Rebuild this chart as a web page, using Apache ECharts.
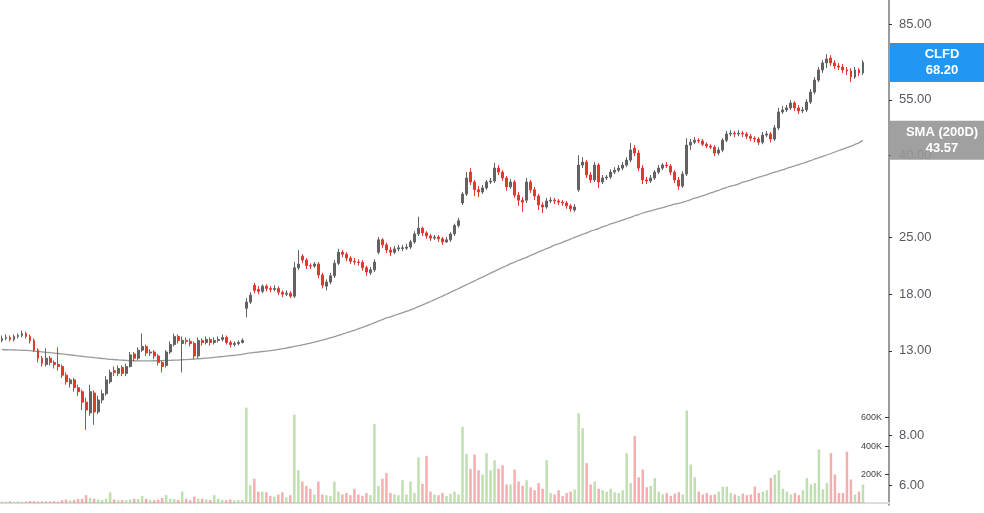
<!DOCTYPE html>
<html><head><meta charset="utf-8">
<script src="https://cdn.jsdelivr.net/npm/echarts@6/dist/echarts.min.js"></script>
<style>html,body{margin:0;padding:0;background:#fff}#c{width:984px;height:513px}</style>
</head><body><div id="c"></div>
<script>
const ticker = 'CLFD';
const smaName = 'SMA (200D)';
const lastPrice = 68.20;
const lastSma = 43.57;
const priceTicks = [6, 8, 13, 18, 25, 40, 55, 85];
const volumeTicks = [200000, 400000, 600000];
const padCount = 6;

const opens = [
13.80,13.96,14.04,13.88,14.12,14.20,14.36,14.12,13.80,13.05,
12.46,12.02,12.46,12.16,12.02,11.88,11.30,10.76,11.00,10.52,
10.28,9.68,9.10,10.20,9.15,9.80,10.16,10.88,11.60,11.42,
11.81,11.42,11.88,12.77,12.46,13.05,13.33,12.84,12.91,12.62,
12.16,11.95,12.91,13.48,14.12,13.56,13.80,13.72,13.56,12.62,
13.80,13.64,13.88,13.64,13.80,13.88,14.04,13.64,13.48,13.56,
13.64,
16.60,17.20,18.95,18.50,18.30,18.85,18.60,18.50,18.60,18.20,
18.00,18.10,17.80,20.95,22.40,21.90,21.20,21.15,21.40,20.10,
18.85,19.30,20.00,21.50,22.90,22.65,22.15,21.75,21.65,21.60,
20.95,20.35,20.70,22.90,24.60,23.90,23.20,22.90,23.35,23.40,
23.45,23.60,24.30,25.45,26.30,25.60,25.15,24.85,25.00,24.75,
24.30,24.60,25.45,26.70,
30.40,32.00,36.30,34.30,32.80,32.40,33.15,34.30,34.50,37.15,
36.30,35.10,33.35,34.30,31.80,30.90,30.90,34.30,32.80,31.65,
30.05,29.70,30.75,30.90,30.75,30.55,30.40,29.90,29.20,32.80,
37.80,38.45,35.70,34.70,37.80,34.30,35.10,35.30,36.30,36.70,
37.15,37.80,38.90,41.65,40.50,37.15,34.70,34.50,35.10,36.30,
37.15,37.80,37.60,36.30,34.70,33.50,35.90,
42.40,43.10,43.60,43.40,42.60,42.15,41.90,40.50,41.20,43.60,
45.20,45.40,45.20,45.40,45.20,44.60,44.10,43.90,43.10,44.90,
45.20,43.90,46.80,51.30,51.90,52.50,54.00,52.50,51.60,51.90,
54.30,57.50,61.60,65.30,68.00,69.90,68.00,66.80,66.40,65.30,
64.90,62.70,65.30,64.20
];
const closes = [
13.96,14.04,13.88,14.12,14.20,14.36,14.12,13.80,13.05,12.46,
12.09,12.46,12.16,12.02,11.88,11.30,10.88,11.00,10.52,10.28,
9.68,9.25,10.28,9.15,9.80,10.16,11.00,11.48,11.48,11.74,
11.42,11.88,12.70,12.46,13.05,13.33,12.84,12.91,12.62,12.16,
11.88,12.91,13.48,14.12,13.80,13.80,13.72,13.56,12.62,13.80,
13.64,13.88,13.64,13.80,13.88,14.04,13.64,13.48,13.56,13.64,
13.80,
17.20,17.90,18.40,18.30,18.85,18.60,18.50,18.60,18.20,18.00,
18.10,17.80,20.95,21.40,21.90,21.20,21.15,21.40,20.10,18.95,
19.30,20.00,21.50,22.90,22.65,22.15,21.75,21.65,21.60,20.95,
20.45,20.70,21.65,24.60,23.90,23.20,22.90,23.35,23.50,23.50,
23.60,24.30,25.45,26.30,25.60,25.15,24.85,25.00,24.75,24.30,
24.60,25.45,26.70,27.45,
32.00,35.10,34.30,32.80,32.40,33.15,34.30,34.50,37.15,36.30,
35.10,33.35,34.30,31.80,30.90,30.55,34.30,32.80,31.65,30.05,
29.70,30.75,30.90,30.75,30.55,30.40,29.90,29.40,29.70,37.80,
38.45,35.70,34.70,37.80,34.30,35.10,35.30,36.30,36.70,37.15,
37.80,38.90,41.20,40.50,37.15,34.70,34.50,35.10,36.30,37.15,
37.80,37.60,36.30,34.70,33.50,35.90,42.40,
43.10,43.60,43.40,42.60,42.15,41.90,40.50,41.20,43.60,45.20,
45.40,45.20,45.40,45.20,44.60,44.10,43.90,43.10,44.90,45.20,
43.90,46.80,51.30,51.90,52.50,54.00,52.50,51.60,51.90,54.30,
57.50,61.60,65.30,68.00,69.50,68.00,66.80,66.40,65.30,64.90,
62.70,65.30,64.20,68.20
];
const highs = [
14.20,14.28,14.20,14.28,14.36,14.60,14.52,14.28,13.96,13.19,
12.62,13.19,12.62,12.30,13.26,12.02,11.48,11.12,11.12,10.70,
10.40,9.92,10.70,10.35,10.04,10.40,11.24,11.67,11.88,11.95,
11.95,12.09,12.91,12.91,13.26,14.36,13.48,13.12,13.05,12.77,
12.30,13.05,13.72,14.36,14.28,14.12,14.04,13.96,13.72,14.04,
13.96,14.12,14.04,14.04,14.12,14.28,14.20,13.80,13.72,13.80,
13.96,
17.60,18.20,19.20,18.85,19.05,19.05,18.85,18.95,18.85,18.40,
18.40,18.30,21.65,23.20,22.65,22.15,21.50,21.65,21.65,20.35,
19.60,20.35,21.90,23.35,23.20,22.90,22.40,22.15,22.00,21.90,
21.20,21.05,22.00,25.00,24.85,24.20,23.60,23.75,23.90,23.90,
24.05,24.60,25.85,28.10,26.55,25.85,25.45,25.30,25.30,25.00,
25.00,25.70,27.00,27.90,
32.40,36.30,37.15,34.70,33.50,33.70,34.70,35.10,38.25,37.80,
36.70,35.50,34.90,34.70,32.40,31.45,35.10,34.70,33.35,32.00,
30.55,31.30,31.45,31.30,31.10,30.90,30.75,30.20,30.20,40.00,
39.55,38.90,36.30,38.45,38.25,35.70,35.70,36.90,37.35,37.80,
38.45,39.55,42.90,42.40,41.20,37.80,35.30,35.70,36.70,37.80,
38.25,38.45,38.00,36.70,35.30,36.50,44.10,
43.90,44.40,44.10,43.90,43.10,42.60,42.40,41.90,44.10,46.00,
46.20,46.00,46.20,46.00,45.70,45.20,44.60,44.40,45.70,46.00,
45.70,47.60,52.50,53.10,53.40,54.90,54.60,53.40,52.80,55.20,
58.50,62.70,66.40,69.10,71.50,71.10,69.10,68.00,67.60,66.40,
66.00,66.40,66.00,69.10
];
const lows = [
13.64,13.80,13.72,13.72,13.96,14.04,13.96,13.56,12.91,12.16,
11.88,11.88,11.95,11.74,11.60,11.12,10.70,10.52,10.28,10.04,
9.25,8.25,8.95,8.50,9.05,9.62,10.04,10.76,11.24,11.24,
11.24,11.24,11.81,12.23,12.30,12.91,12.62,12.62,12.38,11.95,
11.48,11.81,12.77,13.33,13.56,11.48,13.48,13.33,12.38,12.46,
13.40,13.48,13.40,13.48,13.64,13.72,13.48,13.26,13.33,13.40,
13.56,
15.75,17.00,18.10,18.00,18.10,18.30,18.20,18.30,17.90,17.70,
17.80,17.60,17.60,20.70,21.50,20.80,20.80,20.95,19.75,18.60,
18.40,19.05,19.75,21.30,22.25,21.75,21.40,21.30,21.20,20.60,
20.00,20.10,20.45,22.65,23.50,22.80,22.40,22.65,23.05,23.05,
23.20,23.35,24.05,25.15,25.15,24.75,24.45,24.60,24.30,23.90,
24.20,24.30,25.15,26.40,
30.05,31.65,33.70,31.65,31.45,32.00,32.80,33.90,34.10,35.70,
34.50,32.60,33.00,31.30,29.90,28.90,30.40,32.20,30.90,29.20,
28.70,29.40,30.40,30.20,30.05,29.90,29.40,28.90,28.90,32.40,
37.15,35.10,34.10,34.30,33.15,33.90,34.70,34.90,35.90,36.30,
36.70,37.35,38.45,39.80,36.50,33.90,33.90,34.10,34.70,35.90,
36.70,37.15,35.70,34.10,32.80,33.15,35.50,
41.20,42.60,42.90,42.15,41.65,41.45,39.80,40.00,40.70,43.10,
44.60,44.40,44.60,44.40,43.90,43.40,43.10,42.40,42.60,44.40,
43.10,43.40,46.20,50.70,51.30,51.90,51.60,50.70,51.00,51.30,
53.70,56.80,60.90,64.20,66.00,66.80,65.70,65.30,64.20,63.40,
60.90,62.00,63.00,63.40
];
// volume in thousands of shares
const volumesK = [
10,8,12,9,11,8,10,14,12,9,
11,13,10,12,9,20,25,18,22,28,
30,55,35,30,25,22,30,75,25,20,
20,20,25,30,28,50,30,22,20,25,
35,55,30,28,22,80,30,20,45,30,
30,25,20,55,30,22,20,25,18,22,
20,
670,125,170,80,80,75,50,45,60,75,
40,55,620,230,150,120,100,60,150,60,
55,50,150,80,60,70,55,100,60,50,
70,55,555,120,170,210,70,60,55,160,
60,150,70,320,135,330,80,60,55,70,
50,65,80,60,
535,345,240,340,230,200,350,230,300,240,
265,130,130,235,150,120,160,110,90,140,
100,300,70,60,90,50,70,80,95,630,
525,280,130,150,100,90,80,100,75,70,
90,350,140,470,180,235,110,120,175,80,
60,70,50,65,75,60,650,
270,180,80,60,70,55,60,80,115,115,
70,60,50,65,55,60,115,70,80,90,
175,200,230,100,80,60,70,55,90,175,
130,140,375,95,140,350,200,70,70,360,
165,60,80,130
];
const sma200 = [
13.10,13.08,13.07,13.06,13.05,13.04,13.03,13.01,12.98,12.95,
12.92,12.89,12.86,12.83,12.80,12.77,12.73,12.70,12.67,12.63,
12.60,12.56,12.53,12.50,12.47,12.44,12.41,12.38,12.36,12.34,
12.32,12.30,12.29,12.28,12.27,12.27,12.27,12.27,12.28,12.28,
12.29,12.30,12.31,12.32,12.33,12.35,12.36,12.38,12.40,12.42,
12.44,12.46,12.49,12.52,12.55,12.58,12.61,12.64,12.67,12.70,
12.74,
12.80,12.84,12.88,12.91,12.95,12.98,13.02,13.05,13.10,13.16,
13.21,13.27,13.33,13.39,13.45,13.52,13.59,13.67,13.75,13.83,
13.91,14.00,14.10,14.20,14.31,14.42,14.52,14.63,14.74,14.87,
15.00,15.14,15.28,15.42,15.55,15.70,15.80,15.93,16.06,16.19,
16.31,16.45,16.60,16.76,16.92,17.09,17.26,17.44,17.62,17.80,
17.99,18.19,18.39,18.59,
18.80,19.01,19.22,19.43,19.65,19.86,20.08,20.31,20.53,20.76,
20.98,21.20,21.45,21.65,21.85,22.05,22.25,22.50,22.70,22.95,
23.15,23.40,23.60,23.85,24.05,24.25,24.50,24.70,24.95,25.15,
25.40,25.60,25.85,26.05,26.25,26.50,26.70,26.95,27.15,27.35,
27.55,27.80,28.00,28.25,28.45,28.70,28.90,29.05,29.25,29.45,
29.60,29.80,30.00,30.20,30.35,30.55,30.75,
31.00,31.25,31.45,31.70,31.95,32.20,32.45,32.70,33.00,33.25,
33.50,33.70,33.95,34.25,34.45,34.70,35.00,35.25,35.50,35.75,
36.05,36.30,36.55,36.80,37.10,37.35,37.65,37.90,38.20,38.50,
38.80,39.15,39.45,39.75,40.05,40.40,40.75,41.10,41.45,41.80,
42.15,42.55,42.95,43.57
];

const UP = '#626262', DOWN = '#e0392f';
const VOL_UP = 'rgba(150,205,125,0.62)', VOL_DOWN = 'rgba(235,125,125,0.62)';
const n = closes.length;
const cats = [];
for (let i = 0; i < n + padCount; i++) cats.push(String(i));
const candleData = opens.map((o, i) => [o, closes[i], lows[i], highs[i]]);
const volData = volumesK.map((v, i) => ({
  value: v * 1000,
  itemStyle: { color: closes[i] >= opens[i] ? VOL_UP : VOL_DOWN }
}));

const chart = echarts.init(document.getElementById('c'), null, { renderer: 'canvas' });
const FONT = '"Liberation Sans", Arial, sans-serif';
chart.setOption({
  animation: false,
  backgroundColor: '#fff',
  grid: [
    { left: 0, right: 95, top: 0, bottom: 8 },
    { left: 0, right: 95, top: 403, bottom: 10 }
  ],
  xAxis: [
    { type: 'category', data: cats, gridIndex: 0, show: false, boundaryGap: true },
    { type: 'category', data: cats, gridIndex: 1, boundaryGap: true,
      axisLine: { show: true, lineStyle: { color: '#dcdcdc', width: 2 } },
      axisTick: { show: false }, axisLabel: { show: false } }
  ],
  yAxis: [
    { type: 'log', logBase: 10, gridIndex: 0, position: 'right', min: 5.36, max: 97.6,
      axisLine: { show: true, lineStyle: { color: '#7a7a7a', width: 1.5 } },
      axisTick: { show: true, length: 3, customValues: priceTicks, lineStyle: { color: '#333' } },
      axisLabel: { customValues: priceTicks, formatter: v => Number(v).toFixed(2),
        color: '#555a60', fontSize: 13, margin: 10, fontFamily: FONT },
      splitLine: { show: false } },
    { type: 'value', gridIndex: 1, position: 'right', min: 0, max: 702000,
      axisLine: { show: false },
      axisTick: { show: true, inside: true, length: 4, customValues: volumeTicks, lineStyle: { color: '#333' } },
      axisLabel: { inside: true, customValues: volumeTicks, formatter: v => (v / 1000) + 'K',
        color: '#444', fontSize: 9, margin: 7, fontFamily: FONT },
      splitLine: { show: false } }
  ],
  series: [
    { name: 'Volume', type: 'bar', xAxisIndex: 1, yAxisIndex: 1, data: volData,
      barWidth: '62%', z: 1 },
    { name: smaName, type: 'line', xAxisIndex: 0, yAxisIndex: 0, data: sma200,
      showSymbol: false, symbol: 'none', smooth: 0.3,
      lineStyle: { color: '#9a9a9a', width: 1.3 }, z: 2 },
    { name: ticker, type: 'candlestick', xAxisIndex: 0, yAxisIndex: 0, data: candleData,
      barWidth: '60%',
      itemStyle: { color: UP, color0: DOWN, borderColor: UP, borderColor0: DOWN, borderWidth: 1 }, z: 3 }
  ]
});

function tagFor(value, label, fill) {
  const y = chart.convertToPixel({ yAxisIndex: 0 }, value);
  return {
    type: 'group', z: 100,
    children: [
      { type: 'rect', z: 100, shape: { x: 890, y: y - 19.5, width: 110, height: 39 }, style: { fill: fill } },
      { type: 'text', z: 101, style: { text: label + '\n' + value.toFixed(2), x: 942, y: y,
        align: 'center', verticalAlign: 'middle', fill: '#fff',
        fontSize: 13, fontWeight: 'bold', fontFamily: FONT, lineHeight: 16 } }
    ]
  };
}
chart.setOption({
  graphic: [
    tagFor(lastSma, smaName, 'rgba(150,150,150,0.9)'),
    tagFor(lastPrice, ticker, '#2196f3')
  ]
});
</script>
</body></html>
